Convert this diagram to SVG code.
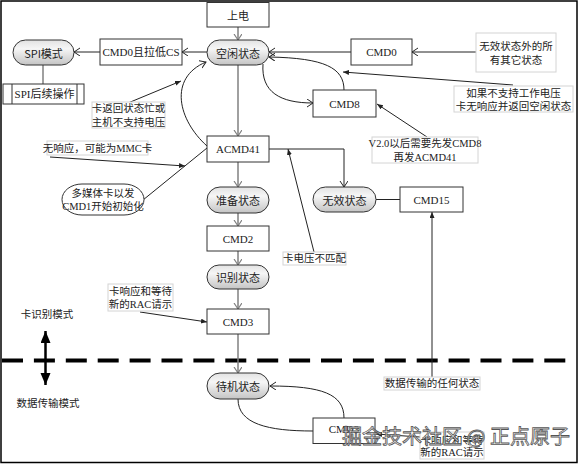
<svg xmlns="http://www.w3.org/2000/svg" width="578" height="464" viewBox="0 0 578 464">
<style>
  .box { fill: #fff; stroke: #333; stroke-width: 1; }
  .pill { fill: url(#pg); stroke: #333; stroke-width: 1; }
  .note { fill: #fff; stroke: #d4d4d4; stroke-width: 1; }
  .t { font-family: "Liberation Serif", "Noto Sans CJK SC", serif; font-size: 11px; fill: #222; text-anchor: middle; dominant-baseline: central; }
  .ts { font-family: "Noto Sans CJK SC", "Liberation Sans", sans-serif; font-size: 11px; fill: #222; text-anchor: middle; dominant-baseline: central; }
  .tn { font-family: "Liberation Serif", "Noto Sans CJK SC", serif; font-size: 10.5px; fill: #222; text-anchor: middle; dominant-baseline: central; }
  .c { fill: none; stroke: #222; stroke-width: 1; }
  .g { fill: none; stroke: #808080; stroke-width: 1.5; }
  .oa { marker-end: url(#open); }
  .og { marker-end: url(#openg); }
  .fa { marker-end: url(#fill); }
</style>
<defs>
  <linearGradient id="pg" x1="0" y1="0" x2="0" y2="1">
    <stop offset="0" stop-color="#e2e2e2"/>
    <stop offset="0.35" stop-color="#f6f6f6"/>
    <stop offset="1" stop-color="#c4c4c4"/>
  </linearGradient>
  <marker id="open" markerUnits="userSpaceOnUse" markerWidth="10" markerHeight="10" refX="6" refY="4" orient="auto">
    <path d="M0,0 L6,4 L0,8" fill="none" stroke="#222" stroke-width="1"/>
  </marker>
  <marker id="openg" markerUnits="userSpaceOnUse" markerWidth="10" markerHeight="10" refX="6" refY="4" orient="auto">
    <path d="M0,0 L6,4 L0,8" fill="none" stroke="#808080" stroke-width="1.2"/>
  </marker>
  <marker id="fill" markerUnits="userSpaceOnUse" markerWidth="8" markerHeight="8" refX="6" refY="2.5" orient="auto">
    <path d="M0,0 L6,2.5 L0,5 z" fill="#222"/>
  </marker>
  <marker id="big" markerUnits="userSpaceOnUse" markerWidth="14" markerHeight="12" refX="12" refY="5" orient="auto-start-reverse">
    <path d="M0,0 L12,5 L0,10 z" fill="#000"/>
  </marker>
</defs>

<rect x="1" y="1" width="576" height="461.5" fill="#fff" stroke="#000" stroke-width="1.5"/>

<!-- mode separator -->
<line x1="2" y1="360.5" x2="566" y2="360.5" stroke="#000" stroke-width="4" stroke-dasharray="21 10.9"/>
<line x1="45.5" y1="331" x2="45.5" y2="385" stroke="#000" stroke-width="2.5" marker-start="url(#big)" marker-end="url(#big)"/>
<text class="tn" x="47" y="314">卡识别模式</text>
<text class="tn" x="48" y="403">数据传输模式</text>

<g id="connectors">
  <line class="g og" x1="238" y1="27" x2="238" y2="40"/>
  <line class="c oa" x1="207" y1="52" x2="182" y2="52"/>
  <line class="c oa" x1="100" y1="52" x2="74" y2="52"/>
  <line class="g" x1="43" y1="65" x2="43" y2="84"/>
  <line class="c oa" x1="351" y1="52" x2="269" y2="52"/>
  <line class="c oa" x1="476" y1="52" x2="412" y2="52"/>
  <path class="c oa" d="M344,90 C344,68 325,58 269,57"/>
  <line class="c fa" x1="513" y1="85" x2="343" y2="72"/>
  <path class="c oa" d="M263,64 C261,92 280,103 313,103"/>
  <line class="c fa" x1="427" y1="137" x2="377" y2="104"/>
  <line class="g og" x1="238" y1="65" x2="238" y2="136"/>
  <path class="c oa" d="M207,146 C178,120 168,78 206,62"/>
  <line class="c fa" x1="128" y1="103" x2="181" y2="81"/>
  <line class="c fa" x1="50" y1="157" x2="185" y2="166"/>
  <line class="c" x1="143" y1="200" x2="207" y2="148"/>
  <polyline class="c oa" points="269,149 344,149 344,187"/>
  <line class="c fa" x1="314" y1="252" x2="288" y2="149"/>
  <line class="c" x1="376" y1="199.5" x2="400" y2="199.5"/>
  <line class="c fa" x1="432" y1="377" x2="432" y2="212"/>
  <line class="g og" x1="238" y1="162" x2="238" y2="187"/>
  <line class="g og" x1="238" y1="213" x2="238" y2="226"/>
  <line class="g og" x1="238" y1="251" x2="238" y2="265"/>
  <line class="g og" x1="238" y1="289" x2="238" y2="309"/>
  <line class="c fa" x1="140" y1="312" x2="207" y2="322"/>
  <line class="g og" x1="238" y1="334" x2="238" y2="373"/>
  <path class="c" d="M238,399 C238,424 268,431 313,431"/>
  <path class="c oa" d="M344,418 C344,394 322,386 270,386"/>
  <line class="c fa" x1="420" y1="437" x2="376" y2="434"/>
</g>

<g id="n-poweron"><rect class="box" x="207" y="2.5" width="62" height="24.5"/><text class="ts" x="238" y="15">上电</text></g>
<g id="n-idle"><rect class="pill" x="207" y="40" width="62" height="25" rx="12.5"/><text class="ts" x="238" y="52.5">空闲状态</text></g>
<g id="n-cmd0cs"><rect class="box" x="100" y="39" width="82" height="26"/><text class="t" x="141" y="52">CMD0且拉低CS</text></g>
<g id="n-spi"><rect class="pill" x="13" y="40" width="61" height="25" rx="12.5"/><text class="ts" x="43.5" y="52.5">SPI模式</text></g>
<g id="n-spinext"><rect class="box" x="3" y="84" width="81" height="20"/><line x1="12" y1="84" x2="12" y2="104" stroke="#333"/><line x1="77" y1="84" x2="77" y2="104" stroke="#333"/><text class="t" x="44.5" y="94">SPI后续操作</text></g>
<g id="n-cmd0"><rect class="box" x="351" y="39" width="61" height="26"/><text class="t" x="381.5" y="52">CMD0</text></g>
<g id="n-note-others"><rect class="note" x="476" y="33" width="80" height="39"/><text class="tn" x="516" y="46">无效状态外的所</text><text class="tn" x="516" y="60">有其它状态</text></g>
<g id="n-note-volt"><rect class="note" x="454" y="86" width="119" height="26"/><text class="tn" x="513.5" y="93">如果不支持工作电压</text><text class="tn" x="513.5" y="106">卡无响应并返回空闲状态</text></g>
<g id="n-cmd8"><rect class="box" x="313" y="90" width="63" height="27"/><text class="t" x="344.5" y="103.5">CMD8</text></g>
<g id="n-note-v2"><rect class="note" x="372" y="137" width="106" height="26"/><text class="tn" x="425" y="143.5">V2.0以后需要先发CMD8</text><text class="tn" x="425" y="157">再发ACMD41</text></g>
<g id="n-note-busy"><rect class="note" x="92" y="102" width="73" height="26"/><text class="tn" x="128.5" y="108.5">卡返回状态忙或</text><text class="tn" x="128.5" y="122">主机不支持电压</text></g>
<g id="n-acmd41"><rect class="box" x="207" y="136" width="62" height="26"/><text class="t" x="238" y="149">ACMD41</text></g>
<g id="n-note-mmc"><rect class="note" x="47" y="141" width="101" height="14"/><text class="tn" x="97.5" y="148">无响应，可能为MMC卡</text></g>
<g id="n-mmc"><rect x="62" y="184" width="82" height="31" rx="20" ry="15.5" fill="#fff" stroke="#333"/><text class="tn" x="103" y="193">多媒体卡以发</text><text class="tn" x="103" y="206">CMD1开始初始化</text></g>
<g id="n-ready"><rect class="pill" x="207" y="187" width="62" height="26" rx="13"/><text class="ts" x="238" y="200">准备状态</text></g>
<g id="n-inactive"><rect class="pill" x="313" y="187" width="63" height="25" rx="12.5"/><text class="ts" x="344.5" y="199.5">无效状态</text></g>
<g id="n-cmd15"><rect class="box" x="400" y="187" width="63" height="25"/><text class="t" x="431.5" y="199.5">CMD15</text></g>
<g id="n-note-mismatch"><rect class="note" x="283" y="252" width="63" height="13"/><text class="tn" x="314.5" y="258.5">卡电压不匹配</text></g>
<g id="n-cmd2"><rect class="box" x="207" y="226" width="62" height="25"/><text class="t" x="238" y="238.5">CMD2</text></g>
<g id="n-ident"><rect class="pill" x="207" y="265" width="62" height="24" rx="12"/><text class="ts" x="238" y="277">识别状态</text></g>
<g id="n-note-rca1"><rect class="note" x="108" y="284" width="65" height="27"/><text class="tn" x="140.5" y="291">卡响应和等待</text><text class="tn" x="140.5" y="304">新的RAC请示</text></g>
<g id="n-cmd3"><rect class="box" x="207" y="309" width="62" height="25"/><text class="t" x="238" y="321.5">CMD3</text></g>
<g id="n-note-data"><rect class="note" x="384" y="377" width="96" height="13"/><text class="tn" x="432" y="383.5">数据传输的任何状态</text></g>
<g id="n-standby"><rect class="pill" x="207" y="373" width="62" height="26" rx="13"/><text class="ts" x="238" y="386">待机状态</text></g>
<g id="n-cmd3b"><rect class="box" x="313" y="418" width="62" height="25.5"/><text class="t" x="344" y="429">CMD3</text></g>
<g id="n-note-rca2"><rect class="note" x="420" y="432" width="64" height="27"/><text class="tn" x="452" y="440">卡响应和等待</text><text class="tn" x="452" y="452.5">新的RAC请示</text></g>

<text x="342" y="444" font-family="Noto Sans CJK SC, sans-serif" font-size="20" fill="#fff" fill-opacity="0.85" stroke="#555" stroke-width="0.8">掘金技术社区 @ 正点原子</text>
</svg>
